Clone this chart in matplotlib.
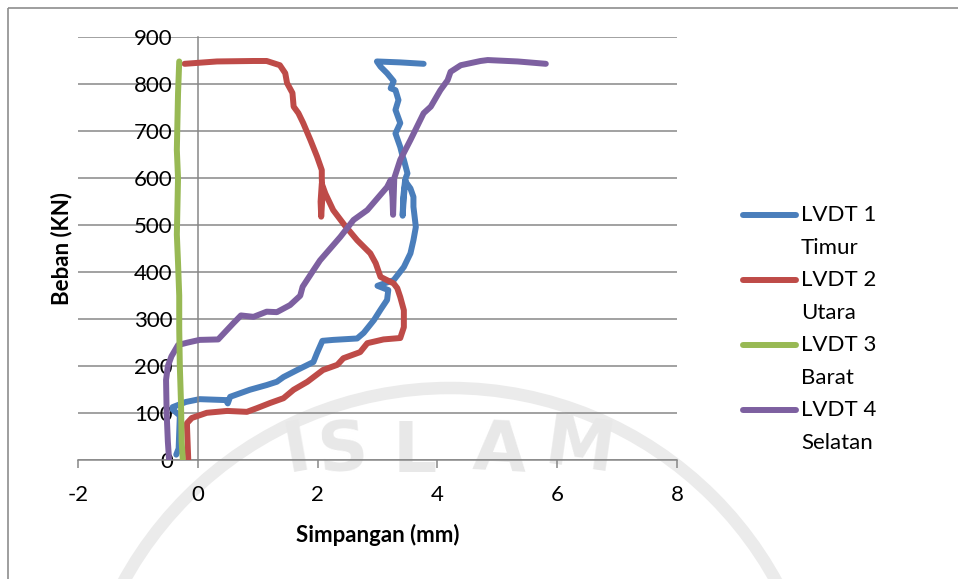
import numpy as np
import matplotlib
matplotlib.use("Agg")
import matplotlib.pyplot as plt
from matplotlib.patches import Circle, Rectangle
from matplotlib.lines import Line2D

plt.rcParams['font.family'] = ['Lato', 'DejaVu Sans']
plt.rcParams['axes.unicode_minus'] = False

# LVDT readings: displacement (mm) vs load (kN)
lvdt1_x = [-0.36, -0.32, -0.30, -0.42, -0.42, -0.20, 0.03, 0.47, 0.50, 0.54, 0.87, 1.15,
           1.32, 1.43, 1.66, 1.93, 1.99, 2.08, 2.26, 2.66, 2.77, 2.94, 3.05, 3.16, 3.18,
           3.00, 3.27, 3.44, 3.55, 3.60, 3.64, 3.60, 3.60, 3.55, 3.46, 3.43, 3.42, 3.44,
           3.47, 3.50, 3.44, 3.42, 3.38, 3.30, 3.38, 3.30, 3.35, 3.30, 3.22, 3.27, 3.16,
           3.05, 2.99, 3.38, 3.77]
lvdt1_y = [12, 25, 95, 108, 113, 124, 130, 128, 121, 135, 150, 160,
           167, 177, 192, 209, 228, 254, 256, 259, 271, 298, 320, 341, 362,
           371, 383, 411, 440, 468, 496, 539, 560, 578, 594, 560, 520, 560,
           600, 610, 639, 646, 666, 695, 717, 745, 766, 787, 791, 806, 823,
           837, 848, 846, 843]

lvdt2_x = [-0.16, -0.17, -0.18, -0.18, -0.10, 0.15, 0.49, 0.82, 0.99, 1.21, 1.43, 1.60,
           1.83, 2.09, 2.33, 2.43, 2.71, 2.83, 3.10, 3.38, 3.44, 3.44, 3.38, 3.33, 3.27,
           3.05, 2.97, 2.88, 2.66, 2.45, 2.26, 2.13, 2.07, 2.05, 2.06, 2.08, 2.07, 2.07,
           1.99, 1.88, 1.76, 1.68, 1.60, 1.58, 1.49, 1.46, 1.37, 1.15, 0.93, 0.32, -0.22]
lvdt2_y = [3, 37, 71, 79, 90, 101, 105, 103, 111, 122, 132, 150,
           167, 192, 203, 217, 230, 249, 257, 260, 283, 319, 347, 366, 376,
           390, 419, 440, 468, 500, 532, 567, 588, 550, 518, 560, 600, 617,
           646, 681, 717, 738, 752, 781, 802, 823, 840, 849, 849, 848, 843]

lvdt3_x = [-0.25, -0.27, -0.28, -0.30, -0.31, -0.31, -0.33, -0.35, -0.34, -0.33, -0.35,
           -0.34, -0.33, -0.31]
lvdt3_y = [0, 40, 120, 200, 280, 350, 420, 480, 540, 600, 660, 720, 780, 848]

lvdt4_x = [-0.48, -0.50, -0.52, -0.53, -0.50, -0.44, -0.33, -0.18, 0.03, 0.34, 0.59, 0.72,
           0.93, 1.15, 1.32, 1.54, 1.71, 1.75, 1.93, 2.04, 2.38, 2.60, 2.83, 3.16, 3.22,
           3.25, 3.26, 3.27, 3.28, 3.38, 3.55, 3.77, 3.89, 4.05, 4.17, 4.22, 4.39, 4.72,
           4.84, 5.34, 5.81]
lvdt4_y = [2, 40, 100, 171, 200, 221, 245, 250, 256, 257, 291, 308,
           305, 316, 315, 330, 350, 369, 404, 425, 475, 511, 532, 581, 596,
           560, 522, 560, 600, 639, 681, 738, 752, 787, 808, 826, 840, 849,
           851, 848, 843]

series = [
    (lvdt1_x, lvdt1_y, 'LVDT 1\nTimur', '#4a7ebb', 2),
    (lvdt2_x, lvdt2_y, 'LVDT 2\nUtara', '#be4b48', 3),
    (lvdt3_x, lvdt3_y, 'LVDT 3\nBarat', '#98b954', 5),
    (lvdt4_x, lvdt4_y, 'LVDT 4\nSelatan', '#7d60a0', 4),
]

x_ticks = [-2, 0, 2, 4, 6, 8]
y_ticks = [0, 100, 200, 300, 400, 500, 600, 700, 800, 900]

W, H = 958, 579
fig = plt.figure(figsize=(W / 100, H / 100), dpi=100)

# background layer in pixel units: chart frame and faint watermark
bg = fig.add_axes([0, 0, 1, 1], zorder=0)
bg.set_xlim(0, W)
bg.set_ylim(H, 0)
bg.axis('off')
wm = '#ebebeb'
bg.add_patch(Circle((450, 760), 372, fill=False, lw=9, ec=wm))
for ch, cx, rot in zip('ISLAM', [297, 343, 415, 500, 580], [10, 5, 0, -3, -8]):
    bg.text(cx, 472, ch, fontsize=50, fontweight='bold', family='DejaVu Sans',
            color='#e8e8e8', ha='center', va='baseline', rotation=rot)
bg.add_patch(Rectangle((8, 8), W, H, fill=False, lw=1.2, ec='#8e8e8e'))

ax = fig.add_axes([78 / W, 1 - 460.3 / H, 599 / W, 423.3 / H], zorder=1)
ax.patch.set_alpha(0)

for xs, ys, lab, col, z in series:
    ax.plot(xs, ys, color=col, lw=4.3, solid_capstyle='round',
            solid_joinstyle='round', zorder=z)

ax.set_xlim(-2, 8)
ax.set_ylim(0, 900)
ax.set_xticks(x_ticks)
ax.set_yticks(y_ticks)
ax.grid(axis='y', color='#878787', lw=1.1)
ax.grid(axis='x', visible=False)
ax.set_axisbelow(True)

for s in ['top', 'right']:
    ax.spines[s].set_visible(False)
ax.spines['left'].set_position(('data', 0))
ax.spines['left'].set_color('#878787')
ax.spines['bottom'].set_color('#878787')
ax.spines['left'].set_linewidth(1.1)
ax.spines['bottom'].set_linewidth(1.1)

ax.tick_params(axis='y', length=0, pad=18, labelsize=16)
ax.tick_params(axis='x', length=5.5, width=1.1, color='#878787', pad=12, labelsize=16)

ax.set_xlabel('Simpangan (mm)', fontsize=16, fontweight='bold')
ax.xaxis.set_label_coords(0.5, -0.176)
ax.xaxis.label.set_va('center')
ax.set_ylabel('Beban (KN)', fontsize=16, fontweight='bold')
ax.yaxis.set_label_coords(-0.028, 0.5)
ax.yaxis.label.set_va('center')

# legend drawn by hand so the handle sits on the first text line
for i, (xs, ys, lab, col, z) in enumerate(series):
    y0 = 215 + i * 65
    bg.add_line(Line2D([743, 796], [y0, y0], color=col, lw=4.3, solid_capstyle='round'))
    name, place = lab.split('\n')
    bg.text(801, y0, name, fontsize=16, va='center', ha='left')
    bg.text(801, y0 + 33, place, fontsize=16, va='center', ha='left')

fig.savefig('out.png', dpi=100)
